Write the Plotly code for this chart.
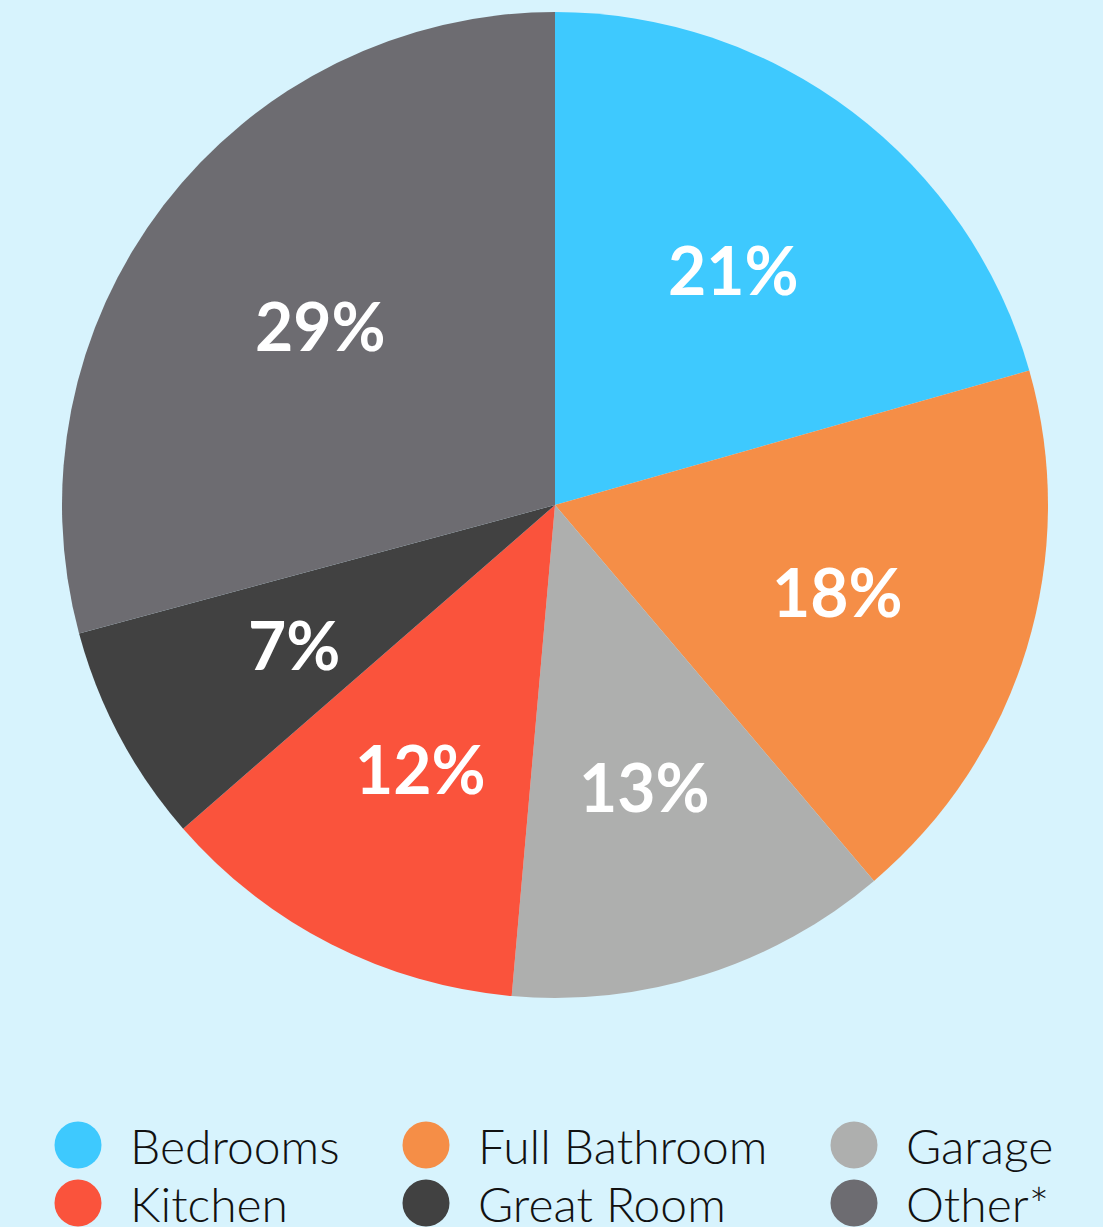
import math
import plotly.graph_objects as go

# ---- data ----
categories = ["Bedrooms", "Full Bathroom", "Garage", "Kitchen", "Great Room", "Other*"]
values = [20.6, 18.2, 12.6, 12.2, 7.2, 29.2]
colors = ["#3EC9FE", "#F58E47", "#AEAFAE", "#FA533C", "#414141", "#6D6C71"]

# ---- layout constants ----
W, H = 1103, 1227
BG = "#D7F3FD"
CX, CY, R = 555, 505, 493          # pie center / radius in pixels (from top-left)
LABEL_R = 0.6                      # label radius fraction
LEG_COL_X = [78, 426, 854]         # legend circle centers (px)
LEG_ROW_Y = [1145, 1203]           # legend row centers (px)
LEG_DOT = 47
LEG_TEXT_DX = 50

fig = go.Figure()

fig.add_trace(go.Pie(
    labels=categories,
    values=values,
    marker=dict(colors=colors, line=dict(width=0)),
    sort=False,
    direction="clockwise",
    rotation=0,
    textinfo="none",
    hoverinfo="label+percent",
    showlegend=False,
    domain=dict(x=[(CX - R) / W, (CX + R) / W],
                y=[1 - (CY + R) / H, 1 - (CY - R) / H]),
))

annotations = []
shapes = []

# slice labels at mid-angle of each slice
total = sum(values)
cum = 0.0
for v in values:
    mid = (cum + v / 2) / total * 2 * math.pi
    cum += v
    px = CX + LABEL_R * R * math.sin(mid)
    py = CY - LABEL_R * R * math.cos(mid)
    annotations.append(dict(
        x=px / W, y=1 - py / H, xref="paper", yref="paper",
        text=f"{round(v / total * 100)}%", showarrow=False,
        xanchor="center", yanchor="middle",
        font=dict(family="Lato", size=66, color="white", weight="bold"),
    ))

# custom legend with large circles
for i, (cat, col) in enumerate(zip(categories, colors)):
    cx = LEG_COL_X[i % 3]
    cy = LEG_ROW_Y[i // 3]
    shapes.append(dict(
        type="circle", xref="paper", yref="paper",
        x0=(cx - LEG_DOT / 2) / W, x1=(cx + LEG_DOT / 2) / W,
        y0=1 - (cy + LEG_DOT / 2) / H, y1=1 - (cy - LEG_DOT / 2) / H,
        fillcolor=col, line=dict(width=0),
    ))
    annotations.append(dict(
        x=(cx + LEG_TEXT_DX) / W, y=1 - cy / H, xref="paper", yref="paper",
        text=cat, showarrow=False, xanchor="left", yanchor="middle",
        font=dict(family="Lato Light, Lato", size=48, color="#111111", weight=300),
    ))

fig.update_layout(
    width=W, height=H,
    margin=dict(l=0, r=0, t=0, b=0),
    paper_bgcolor=BG, plot_bgcolor=BG,
    annotations=annotations,
    shapes=shapes,
    showlegend=False,
)

fig.write_html(
    "out.html",
    config={"displayModeBar": False},
    post_script="document.body.style.margin='0';document.body.style.background='%s';" % BG,
)
